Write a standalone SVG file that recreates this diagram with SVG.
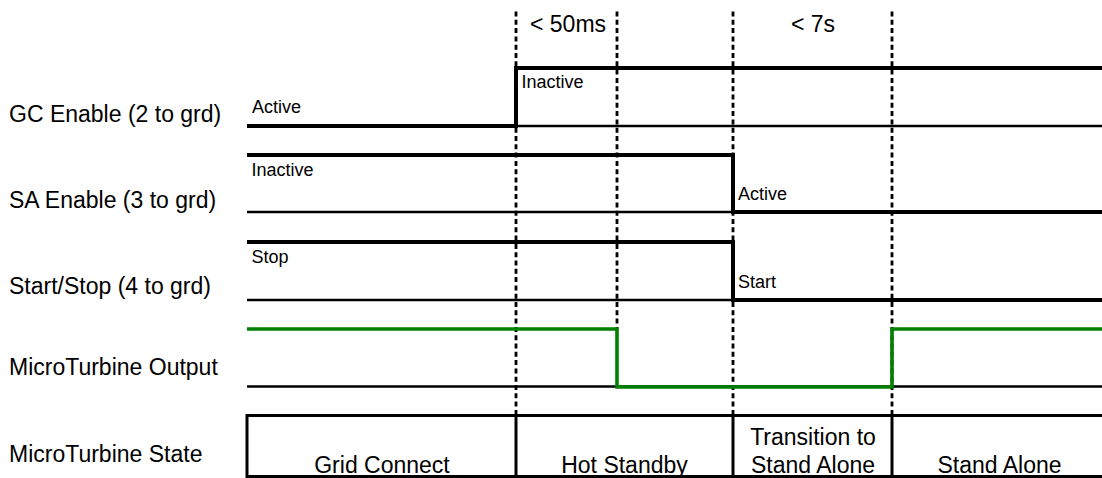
<svg xmlns="http://www.w3.org/2000/svg" width="1102" height="478" viewBox="0 0 1102 478">
  <style>
    text { font-family: "Liberation Sans", Arial, sans-serif; fill: #000; }
    .lbl { font-size: 23px; }
    .lvl { font-size: 18px; }
    .mid { text-anchor: middle; }
    .base { stroke: #000; stroke-width: 2.6; fill: none; }
    .sig { stroke: #000; stroke-width: 4; fill: none; stroke-linejoin: miter; }
    .out { stroke: #008000; stroke-width: 3.6; fill: none; stroke-linejoin: miter; }
    .mark { stroke: #000; stroke-width: 2.8; stroke-dasharray: 5 3.3; fill: none; }
    .cell { stroke: #000; stroke-width: 3; fill: none; }
  </style>

  <!-- timing markers -->
  <g id="markers">
    <line class="mark" x1="516" y1="11.5" x2="516" y2="415"/>
    <line class="mark" x1="617" y1="11.5" x2="617" y2="329"/>
    <line class="mark" x1="733" y1="11.5" x2="733" y2="415"/>
    <line class="mark" x1="892" y1="11.5" x2="892" y2="415"/>
    <text class="lbl" x="530" y="31.5">&lt; 50ms</text>
    <text class="lbl mid" x="813" y="31.5">&lt; 7s</text>
  </g>

  <!-- row labels -->
  <g id="row-labels">
    <text class="lbl" x="9" y="121.5">GC Enable (2 to grd)</text>
    <text class="lbl" x="9" y="207.5">SA Enable (3 to grd)</text>
    <text class="lbl" x="9" y="293.5">Start/Stop (4 to grd)</text>
    <text class="lbl" x="9" y="375">MicroTurbine Output</text>
    <text class="lbl" x="9" y="461.5">MicroTurbine State</text>
  </g>

  <!-- GC Enable -->
  <g id="gc-enable">
    <line class="base" x1="247" y1="126" x2="1102" y2="126"/>
    <polyline class="sig" points="247,126 516,126 516,68 1102,68"/>
    <text class="lvl" x="252" y="113">Active</text>
    <text class="lvl" x="521.5" y="88">Inactive</text>
  </g>

  <!-- SA Enable -->
  <g id="sa-enable">
    <line class="base" x1="247" y1="212" x2="1102" y2="212"/>
    <polyline class="sig" points="247,155 733,155 733,212 1102,212"/>
    <text class="lvl" x="251.5" y="176">Inactive</text>
    <text class="lvl" x="738" y="200">Active</text>
  </g>

  <!-- Start/Stop -->
  <g id="start-stop">
    <line class="base" x1="247" y1="300" x2="1102" y2="300"/>
    <polyline class="sig" points="247,242 733,242 733,300 1102,300"/>
    <text class="lvl" x="251.5" y="263">Stop</text>
    <text class="lvl" x="738" y="288">Start</text>
  </g>

  <!-- MicroTurbine Output -->
  <g id="turbine-output">
    <line class="base" x1="247" y1="386.5" x2="1102" y2="386.5"/>
    <polyline class="out" points="247,329 617,329 617,387 892,387 892,329 1102,329"/>
  </g>

  <!-- MicroTurbine State -->
  <g id="turbine-state">
    <line class="cell" x1="247" y1="415.5" x2="1102" y2="415.5"/>
    <line class="cell" x1="247" y1="476.5" x2="1102" y2="476.5"/>
    <line class="cell" x1="247" y1="414" x2="247" y2="478"/>
    <line class="cell" x1="516" y1="414" x2="516" y2="478"/>
    <line class="cell" x1="733" y1="414" x2="733" y2="478"/>
    <line class="cell" x1="892" y1="414" x2="892" y2="478"/>
    <text class="lbl mid" x="382" y="473">Grid Connect</text>
    <text class="lbl mid" x="624.5" y="473">Hot Standby</text>
    <text class="lbl mid" x="813" y="445">Transition to</text>
    <text class="lbl mid" x="813" y="472.5">Stand Alone</text>
    <text class="lbl mid" x="999.5" y="473">Stand Alone</text>
  </g>
</svg>
